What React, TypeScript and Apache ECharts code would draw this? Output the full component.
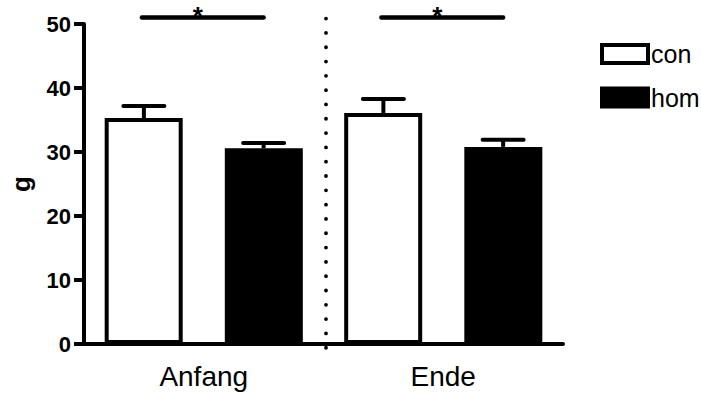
import React, { useEffect, useRef } from "react";
import * as echarts from "echarts";

const categories = ["Anfang", "Ende"];
const seriesNames = ["con", "hom"];
const conValues = [35.3, 36.1];
const homValues = [30.6, 30.8];
const conUpper = [37.2, 38.3];
const homUpper = [31.4, 31.9];
const sigLevels = [51, 51];
const sigMarks = ["*", "*"];
const yMin = 0;
const yMax = 50;
const yStep = 10;

const FONT = "'Liberation Sans', Arial, sans-serif";

export default function App() {
  const ref = useRef<HTMLDivElement>(null);

  useEffect(() => {
    if (!ref.current) return;
    const chart = echarts.init(ref.current, null, { renderer: "svg" });

    const errRender = (sign: number) => (params: any, api: any) => {
      const cat = api.value(0);
      const v = api.value(1);
      const hi = api.value(2);
      const bw = api.size([1, 0])[0];
      const base = api.coord([cat, v]);
      const top = api.coord([cat, hi]);
      const x = base[0] + (sign * bw) / 4;
      return {
        type: "group",
        children: [
          {
            type: "line",
            shape: { x1: x, y1: base[1], x2: x, y2: top[1] },
            style: { stroke: "#000", lineWidth: 4 },
          },
          {
            type: "line",
            shape: { x1: x - 20.5, y1: top[1], x2: x + 20.5, y2: top[1] },
            style: { stroke: "#000", lineWidth: 4, lineCap: "round" },
          },
        ],
      };
    };

    const sigRender = (params: any, api: any) => {
      const cat = api.value(0);
      const lvl = api.value(1);
      const bw = api.size([1, 0])[0];
      const p = api.coord([cat, lvl]);
      const children: any[] = [
        {
          type: "line",
          shape: { x1: p[0] - bw / 4 - 2, y1: p[1], x2: p[0] + bw / 4, y2: p[1] },
          style: { stroke: "#000", lineWidth: 4.5, lineCap: "round" },
        },
        {
          type: "text",
          style: {
            x: p[0] - 6,
            y: p[1] - 2,
            text: sigMarks[params.dataIndex],
            fill: "#000",
            font: `bold 26px ${FONT}`,
            textAlign: "center",
            textVerticalAlign: "middle",
          },
        },
      ];
      if (params.dataIndex === 0) {
        const zero = api.coord([cat, yMin]);
        const xd = p[0] + bw / 2 + 2.5;
        children.push({
          type: "line",
          shape: { x1: xd, y1: p[1] + 1, x2: xd, y2: zero[1] + 6 },
          style: {
            stroke: "#000",
            lineWidth: 3.8,
            lineCap: "round",
            lineDash: [0.01, 14.3],
          },
        });
      }
      return { type: "group", children };
    };

    chart.setOption({
      animation: false,
      backgroundColor: "#fff",
      textStyle: { fontFamily: FONT },
      grid: { left: 82, right: 138, top: 24, bottom: 55, containLabel: false },
      legend: {
        data: seriesNames,
        orient: "vertical",
        left: 595,
        top: 36.5,
        itemWidth: 46,
        itemHeight: 18,
        itemGap: 18.5,
        icon: "rect",
        textStyle: {
          fontSize: 25,
          color: "#000",
          fontFamily: FONT,
          lineHeight: 18,
          padding: [0, 0, 0, -2],
        },
        itemStyle: { borderColor: "#000", borderWidth: 4 },
        selectedMode: false,
      },
      xAxis: {
        type: "category",
        data: categories,
        axisLine: { lineStyle: { color: "#000", width: 4, cap: "round" } },
        axisTick: { show: false },
        axisLabel: { color: "#000", fontSize: 28, margin: 18, fontFamily: FONT },
        splitLine: { show: false },
      },
      yAxis: {
        type: "value",
        min: yMin,
        max: yMax,
        interval: yStep,
        name: "g",
        nameLocation: "middle",
        nameGap: 50,
        nameTextStyle: { color: "#000", fontSize: 26, fontWeight: "bold", fontFamily: FONT },
        axisLine: { show: true, lineStyle: { color: "#000", width: 4 } },
        axisTick: { show: true, length: 10, lineStyle: { color: "#000", width: 4 } },
        axisLabel: { color: "#000", fontSize: 22, fontWeight: "bold", margin: 13, fontFamily: FONT },
        splitLine: { show: false },
      },
      series: [
        {
          name: "con",
          type: "bar",
          data: conValues,
          barWidth: 78,
          barGap: "54%",
          itemStyle: { color: "#fff", borderColor: "#000", borderWidth: 4 },
        },
        {
          name: "hom",
          type: "bar",
          data: homValues,
          barWidth: 78,
          barGap: "54%",
          itemStyle: { color: "#000", borderColor: "#000", borderWidth: 4 },
        },
        {
          name: "conErr",
          type: "custom",
          renderItem: errRender(-1),
          data: categories.map((_, i) => [i, conValues[i], conUpper[i]]),
          encode: { x: 0, y: [1, 2] },
          z: 3,
          silent: true,
        },
        {
          name: "homErr",
          type: "custom",
          renderItem: errRender(1),
          data: categories.map((_, i) => [i, homValues[i], homUpper[i]]),
          encode: { x: 0, y: [1, 2] },
          z: 3,
          silent: true,
        },
        {
          name: "sig",
          type: "custom",
          renderItem: sigRender,
          data: categories.map((_, i) => [i, sigLevels[i]]),
          encode: { x: 0, y: 1 },
          clip: false,
          z: 3,
          silent: true,
        },
      ],
    });

    return () => chart.dispose();
  }, []);

  return (
    <div
      ref={ref}
      style={{ position: "fixed", left: 0, top: 0, width: 701, height: 399, background: "#fff" }}
    />
  );
}
